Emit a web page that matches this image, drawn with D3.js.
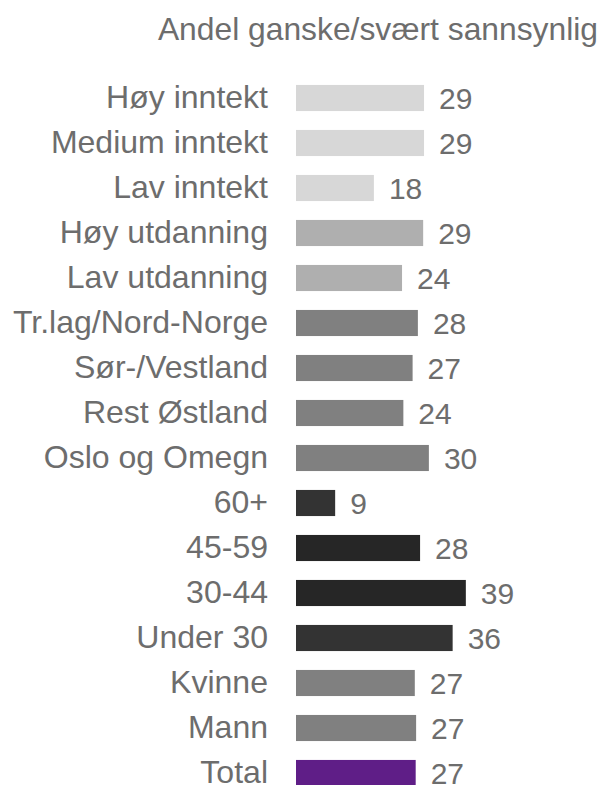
<!DOCTYPE html>
<html><head><meta charset="utf-8">
<script src="https://cdn.jsdelivr.net/npm/d3@7"></script>
<style>body{margin:0;background:#fff}svg{display:block}</style>
</head><body>
<svg id="chart" width="603" height="785"></svg>
<script>
const title = "Andel ganske/svært sannsynlig";
const categories = ["Høy inntekt","Medium inntekt","Lav inntekt","Høy utdanning","Lav utdanning","Tr.lag/Nord-Norge","Sør-/Vestland","Rest Østland","Oslo og Omegn","60+","45-59","30-44","Under 30","Kvinne","Mann","Total"];
const values = [29.1,29.1,17.7,28.9,24.1,27.7,26.5,24.4,30.2,8.9,28.2,38.6,35.6,27.0,27.3,27.2];
const colors = ["#d7d7d7","#d7d7d7","#d7d7d7","#afafaf","#afafaf","#808080","#808080","#808080","#808080","#333333","#262626","#262626","#333333","#808080","#808080","#5f1e87"];

const svg = d3.select("#chart");
const textColor = "#6d6d6d";
const font = "'Liberation Sans', Arial, sans-serif";
const fmt = d3.format(".0f");

const x = d3.scaleLinear().domain([0, 40]).range([296, 472]);
const y = d3.scaleBand().domain(categories).range([75.5, 75.5 + 16*45]).paddingInner(0.42).paddingOuter(0.21);

svg.append("text").attr("x", 598).attr("y", 40).attr("text-anchor","end")
  .attr("fill", textColor)
  .style("font-family", font).style("font-size","31.8px").text(title);

const rows = svg.append("g").selectAll("g").data(categories).join("g");
rows.append("rect")
  .attr("x", x(0)).attr("y", d => y(d))
  .attr("width", (d,i) => x(values[i]) - x(0))
  .attr("height", y.bandwidth())
  .attr("fill", (d,i) => colors[i]);
rows.append("text")
  .attr("transform", d => `translate(268,${y(d) + y.bandwidth()/2 + 10}) scale(1.05,1)`)
  .attr("text-anchor","end")
  .attr("fill", textColor).style("font-family", font).style("font-size","30.5px")
  .text(d => d);
rows.append("text")
  .attr("x", (d,i) => x(values[i]) + 15).attr("y", d => y(d) + y.bandwidth()/2 + 10.5)
  .attr("fill", textColor).style("font-family", font).style("font-size","30px")
  .text((d,i) => fmt(values[i]));
</script>
</body></html>
